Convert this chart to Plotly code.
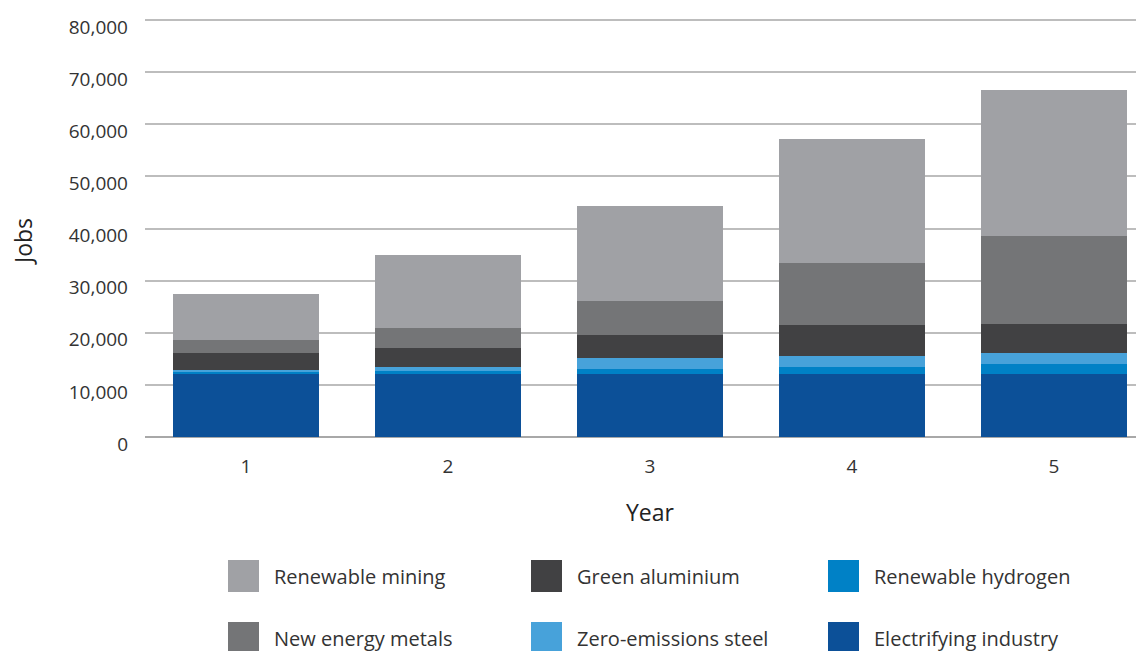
import plotly.graph_objects as go

years = [1, 2, 3, 4, 5]
year_labels = ["1", "2", "3", "4", "5"]

electrifying_industry = [12000, 12000, 12000, 12000, 12000]
renewable_hydrogen = [650, 750, 1100, 1500, 2050]
zero_emissions_steel = [200, 750, 2100, 2100, 2100]
green_aluminium = [3300, 3650, 4400, 5950, 5550]
new_energy_metals = [2500, 3800, 6500, 11900, 16900]
renewable_mining = [8800, 14000, 18200, 23800, 28000]

y_ticks = [0, 10000, 20000, 30000, 40000, 50000, 60000, 70000, 80000]

series = [
    ("Electrifying industry", electrifying_industry, "#0c5098"),
    ("Renewable hydrogen", renewable_hydrogen, "#0081c6"),
    ("Zero-emissions steel", zero_emissions_steel, "#47a2da"),
    ("Green aluminium", green_aluminium, "#414143"),
    ("New energy metals", new_energy_metals, "#747577"),
    ("Renewable mining", renewable_mining, "#a0a1a5"),
]
colors = {name: c for name, _, c in series}

FONT = "Open Sans"
OFF = 8  # page body margin
YMAX = 80400
px_per_unit = 417 / 80000
W, H = 1144 - OFF, 651 - OFF
L = 145 - OFF
plot_bottom = 437 - OFF
PH_target = YMAX * px_per_unit
T = plot_bottom - PH_target
B = H - plot_bottom
R = 0
PW, PH = W - L - R, H - T - B

fig = go.Figure()
for name, vals, col in series:
    fig.add_trace(go.Bar(x=years, y=vals, name=name, marker=dict(color=col, line=dict(width=0)),
                         width=0.723, showlegend=False))

# screen pixel -> paper coords
def px_x(x):
    return (x - OFF - L) / PW

def px_y(y):
    return (H - B - (y - OFF)) / PH

legend_rows = [["Renewable mining", "Green aluminium", "Renewable hydrogen"],
               ["New energy metals", "Zero-emissions steel", "Electrifying industry"]]
col_x = [228, 531, 828]
row_y = [560, 622]
shapes = []
annotations = []
for ri, row in enumerate(legend_rows):
    for ci, name in enumerate(row):
        x0, y0 = col_x[ci], row_y[ri]
        shapes.append(dict(type="rect", xref="paper", yref="paper",
                           x0=px_x(x0), x1=px_x(x0 + 31), y0=px_y(y0), y1=px_y(y0 + 32),
                           fillcolor=colors[name], line=dict(width=0)))
        annotations.append(dict(xref="paper", yref="paper", x=px_x(x0 + 44), y=px_y(y0 + 17),
                                text=name, showarrow=False, xanchor="left", yanchor="middle",
                                font=dict(family=FONT, size=20, color="#333333")))

annotations.append(dict(xref="paper", yref="paper", x=px_x(650), y=px_y(512), text="Year",
                        showarrow=False, xanchor="center", yanchor="middle",
                        font=dict(family=FONT, size=23, color="#222222")))
annotations.append(dict(xref="paper", yref="paper", x=px_x(23), y=px_y(242), text="Jobs",
                        showarrow=False, xanchor="center", yanchor="middle", textangle=-90,
                        font=dict(family=FONT, size=23, color="#222222")))

fig.update_layout(
    width=W, height=H,
    margin=dict(l=L, r=R, t=T, b=B, pad=0),
    barmode="stack",
    plot_bgcolor="white", paper_bgcolor="white",
    font=dict(family=FONT, size=20, color="#333333"),
    shapes=shapes, annotations=annotations,
    showlegend=False,
)
fig.update_xaxes(range=[0.5, 0.5 + PW / 202], tickvals=years, ticktext=year_labels,
                 showgrid=False, zeroline=False, showline=False, ticks="",
                 ticklabelstandoff=16, tickfont=dict(family=FONT, size=19, color="#333333"))
fig.update_yaxes(range=[0, YMAX], tickvals=y_ticks, tickformat=",", showgrid=True,
                 gridcolor="#bdbdbd", gridwidth=1.5, zeroline=True, zerolinecolor="#a8a8a8",
                 zerolinewidth=2, showline=False, ticks="", ticklabelstandoff=16,
                 ticklabelshift=7,
                 tickfont=dict(family=FONT, size=19, color="#333333"))

fig.write_html("out.html")
